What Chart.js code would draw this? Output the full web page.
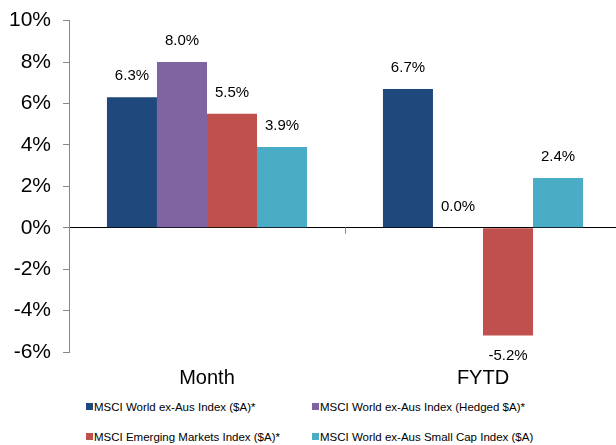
<!DOCTYPE html>
<html>
<head>
<meta charset="utf-8">
<script src="https://cdn.jsdelivr.net/npm/chart.js@4.4.1/dist/chart.umd.min.js"></script>
<style>
  body { margin: 0; background: #fff; font-family: "Liberation Sans", Arial, sans-serif; overflow: hidden; }
  #wrap { position: relative; width: 616px; height: 445px; overflow: hidden; }
  #chartBox { position: absolute; left: 0; top: -4px; width: 621px; height: 396px; }
  .leg { position: absolute; font-size: 11.5px; color: #000; white-space: nowrap; line-height: 14px; }
  .leg span { display: inline-block; width: 7px; height: 7px; margin-right: 1px; vertical-align: 1px; }
</style>
</head>
<body>
<div id="wrap">
  <div id="chartBox"><canvas id="myChart" width="621" height="396"></canvas></div>
  <div id="legend"></div>
</div>
<script>
const categories = ["Month", "FYTD"];
const seriesNames = [
  "MSCI World ex-Aus Index ($A)*",
  "MSCI World ex-Aus Index (Hedged $A)*",
  "MSCI Emerging Markets Index ($A)*",
  "MSCI World ex-Aus Small Cap Index ($A)",
];
const worldAud = [6.3, 6.7];
const worldHedged = [8.0, 0.0];
const emerging = [5.5, -5.2];
const smallCap = [3.9, 2.4];
const colors = ["#1f497d", "#8064a2", "#c0504d", "#4bacc6"];
const yTicks = [-6, -4, -2, 0, 2, 4, 6, 8, 10];

const seriesValues = [worldAud, worldHedged, emerging, smallCap];

// 막대 위 값 표시
const valueLabels = {
  id: "valueLabels",
  afterDatasetsDraw(chart) {
    const ctx = chart.ctx;
    ctx.save();
    ctx.font = "15px 'Liberation Sans', Arial, sans-serif";
    ctx.fillStyle = "#000";
    ctx.textAlign = "center";
    ctx.textBaseline = "middle";
    chart.data.datasets.forEach((ds, i) => {
      chart.getDatasetMeta(i).data.forEach((bar, j) => {
        const v = ds.data[j];
        const y = v >= 0 ? bar.y - 21 : bar.y + 20;
        ctx.fillText(v.toFixed(1) + "%", bar.x, y);
      });
    });
    ctx.restore();
  },
};

// 카테고리 사이 눈금
const midTick = {
  id: "midTick",
  afterDraw(chart) {
    const x = chart.scales.x;
    const y0 = chart.scales.y.getPixelForValue(0);
    const mid = (x.getPixelForValue(0) + x.getPixelForValue(1)) / 2;
    const ctx = chart.ctx;
    ctx.save();
    ctx.strokeStyle = "#888";
    ctx.lineWidth = 1;
    ctx.beginPath();
    ctx.moveTo(Math.round(mid) + 0.5, y0);
    ctx.lineTo(Math.round(mid) + 0.5, y0 + 6);
    ctx.stroke();
    ctx.restore();
  },
};

const ctx = document.getElementById("myChart").getContext("2d");
const myChart = new Chart(ctx, {
  type: "bar",
  data: {
    labels: categories,
    datasets: seriesValues.map((vals, i) => ({
      label: seriesNames[i],
      data: vals,
      backgroundColor: colors[i],
      borderWidth: 0,
      barPercentage: 1,
      categoryPercentage: 0.725,
    })),
  },
  options: {
    responsive: false,
    animation: false,
    layout: { padding: { top: 12, right: 0, left: 0, bottom: 0 } },
    plugins: { legend: { display: false }, tooltip: { enabled: false } },
    scales: {
      x: {
        grid: { display: false },
        border: { display: false },
        ticks: {
          color: "#000",
          font: { size: 20, family: "'Liberation Sans', Arial, sans-serif" },
          padding: 6,
        },
        afterFit(scale) { scale.height = 40; },
      },
      y: {
        min: -6,
        max: 10,
        afterBuildTicks(scale) { scale.ticks = yTicks.map((v) => ({ value: v })); },
        grid: {
          color: (c) => (c.tick && c.tick.value === 0 ? "#000" : "rgba(0,0,0,0)"),
          tickColor: "#888",
          tickLength: 6,
        },
        border: { display: true, color: "#888", width: 1 },
        ticks: {
          color: "#000",
          font: { size: 21, family: "'Liberation Sans', Arial, sans-serif" },
          padding: 12,
          callback: (v) => v + "%",
        },
        afterFit(scale) { scale.width = 69; },
      },
    },
  },
  plugins: [valueLabels, midTick],
});

// 범례
const legendBox = document.getElementById("legend");
const legPos = [[86, 400], [312, 400], [86, 430], [312, 430]];
seriesNames.forEach((name, i) => {
  const d = document.createElement("div");
  d.className = "leg";
  d.style.left = legPos[i][0] + "px";
  d.style.top = legPos[i][1] + "px";
  d.innerHTML = '<span style="background:' + colors[i] + '"></span>';
  d.appendChild(document.createTextNode(name));
  legendBox.appendChild(d);
});
</script>
</body>
</html>
